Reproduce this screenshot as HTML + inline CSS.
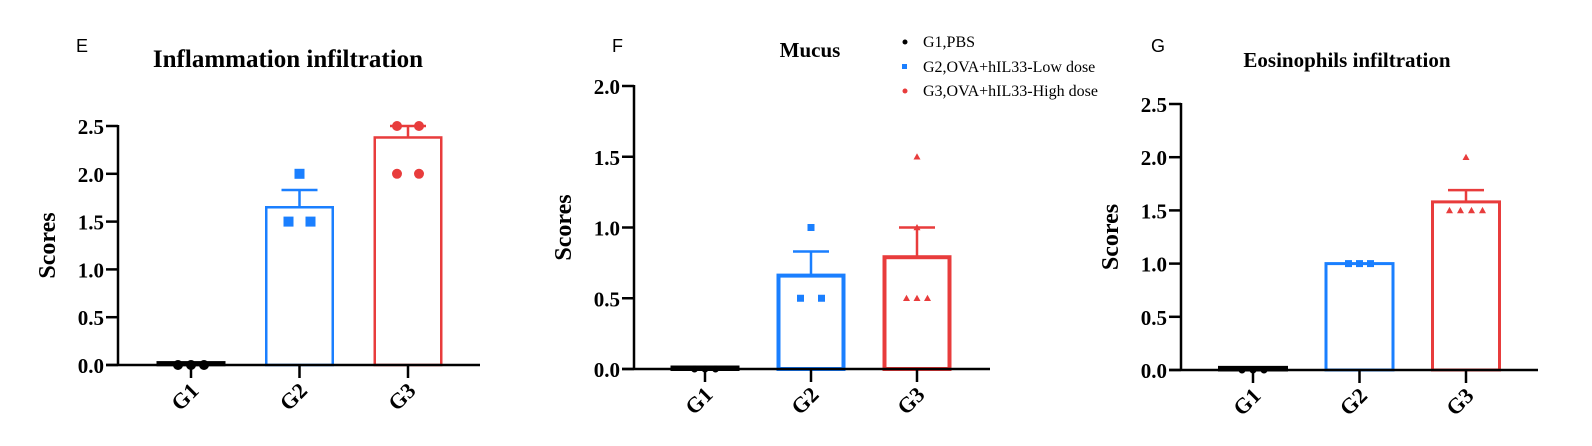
<!DOCTYPE html>
<html><head><meta charset="utf-8"><style>
body{margin:0;background:#fff;width:1592px;height:441px;overflow:hidden}
svg text{font-family:"Liberation Serif",serif}
</style></head><body>
<svg id="c" width="1592" height="441" xmlns="http://www.w3.org/2000/svg">
<text x="76" y="52" font-size="18" style="font-family:'Liberation Sans',sans-serif">E</text>
<text x="612" y="52" font-size="18" style="font-family:'Liberation Sans',sans-serif">F</text>
<text x="1151" y="52" font-size="18" style="font-family:'Liberation Sans',sans-serif">G</text>
<g font-size="16">
<circle cx="905" cy="42" r="2.5" fill="#000"/><text x="923" y="47">G1,PBS</text>
<rect x="902" y="64" width="5" height="5" fill="#1a7fff"/><text x="923" y="72">G2,OVA+hIL33-Low dose</text>
<circle cx="905" cy="91" r="2.5" fill="#e83c3c"/><text x="923" y="96">G3,OVA+hIL33-High dose</text>
</g>
</svg>
<script>
const categories=["G1","G2","G3"];
const colors=["#000","#1a7fff","#e83c3c"];
const eTitle="Inflammation infiltration", eMeans=[0.02,1.65,2.38], eErr=[0,1.83,2.5], ePoints=[[0,0,0],[2,1.5,1.5],[2.5,2.5,2,2]], eTicks=["0.0","0.5","1.0","1.5","2.0","2.5"];
const fTitle="Mucus", fMeans=[0.01,0.66,0.79], fErr=[0,0.83,1.0], fPoints=[[0,0,0],[1,0.5,0.5],[1.5,1.0,0.5,0.5,0.5]], fTicks=["0.0","0.5","1.0","1.5","2.0"];
const gTitle="Eosinophils infiltration", gMeans=[0.02,1.0,1.58], gErr=[0,1.0,1.69], gPoints=[[0,0,0],[1,1,1],[2,1.5,1.5,1.5,1.5]], gTicks=["0.0","0.5","1.0","1.5","2.0","2.5"];
const svg=document.getElementById('c');const NS="http://www.w3.org/2000/svg";
function mk(t,a,p){const e=document.createElementNS(NS,t);for(const k in a)e.setAttribute(k,a[k]);(p||svg).appendChild(e);return e;}
function panel(id,cfg){
 const g=mk('g',{});
 
 
 const ymax=parseFloat(cfg.ticks[cfg.ticks.length-1]);
 const y=v=>cfg.y0-(v/ymax)*(cfg.y0-cfg.yTop);
 const x=i=>cfg.cx0+i*cfg.step;
 const t=mk('text',{x:cfg.titleX,y:cfg.titleY,'text-anchor':'middle','font-size':cfg.titleSize,'font-weight':'bold'},g);t.textContent=cfg.title;
 
 
 const yt=mk('text',{x:0,y:0,'text-anchor':'middle','font-size':24,'font-weight':'bold',transform:`translate(${cfg.ax-63},${(cfg.y0+cfg.yTop)/2}) rotate(-90)`},g);yt.textContent="Scores";
 
 
 cfg.ticks.forEach(s=>{const v=parseFloat(s);mk('line',{x1:cfg.ax-12,x2:cfg.ax,y1:y(v),y2:y(v),stroke:'#000','stroke-width':2.5},g);
  const l=mk('text',{x:cfg.ax-14,y:y(v)+8,'text-anchor':'end','font-size':21,'font-weight':'bold'},g);l.textContent=s;
  
  });
 categories.forEach((c,i)=>{
  const bw=cfg.bw,h=cfg.sw/2;
  const b=mk('rect',{x:x(i)-bw/2+h,y:y(cfg.means[i]),width:bw-2*h,height:Math.max(cfg.y0-y(cfg.means[i]),0.1),fill:'#fff',stroke:colors[i],'stroke-width':cfg.sw},g);
  
  
  if(i==0){mk('rect',{x:x(i)-bw/2,y:y(cfg.means[i])-2,width:bw,height:cfg.y0-y(cfg.means[i])+3,fill:'#000'},g);}
  if(cfg.err[i]>cfg.means[i]){
   const e1=mk('line',{x1:x(i),x2:x(i),y1:y(cfg.means[i]),y2:y(cfg.err[i]),stroke:colors[i],'stroke-width':2.5},g);
   
   
   mk('line',{x1:x(i)-18,x2:x(i)+18,y1:y(cfg.err[i]),y2:y(cfg.err[i]),stroke:colors[i],'stroke-width':2.5},g);}
  const pts=cfg.points[i];const counts={};
  pts.forEach(v=>{counts[v]=(counts[v]||0)+1;});const seen={};
  pts.forEach(v=>{const n=counts[v];const k=seen[v]=(seen[v]||0)+1;const d=(n==2?cfg.dx2:cfg.dx);const px=x(i)+(k-(n+1)/2)*d;const py=y(v);let m;
   const shape=cfg.shapes[i];
   if(shape=='c')m=mk('circle',{cx:px,cy:py,r:cfg.r,fill:colors[i]},g);
   else if(shape=='s')m=mk('rect',{x:px-cfg.r,y:py-cfg.r,width:2*cfg.r,height:2*cfg.r,fill:colors[i]},g);
   else m=mk('polygon',{points:`${px},${py-cfg.r} ${px-cfg.r},${py+cfg.r*0.8} ${px+cfg.r},${py+cfg.r*0.8}`,fill:colors[i]},g);
   
   });
  mk('line',{x1:x(i),x2:x(i),y1:cfg.y0,y2:cfg.y0+13,stroke:'#000','stroke-width':2.5},g);
  const xl=mk('text',{x:0,y:0,'text-anchor':'end','font-size':22,'font-weight':'bold',transform:`translate(${x(i)+9},${cfg.y0+27}) rotate(-45)`},g);xl.textContent=c;
  
  
 });
 const ya=mk('line',{x1:cfg.ax,x2:cfg.ax,y1:cfg.yTop-1,y2:cfg.y0+1,stroke:'#000','stroke-width':2.5},g);
 
 
 const xa=mk('line',{x1:cfg.ax-12,x2:cfg.xEnd,y1:cfg.y0,y2:cfg.y0,stroke:'#000','stroke-width':2.5},g);
 
 
}
panel('inflammation',{title:eTitle,means:eMeans,err:eErr,points:ePoints,ticks:eTicks,y0:365,yTop:126,ax:118,xEnd:480,cx0:191,step:108.5,bw:69,sw:2.5,titleX:288,titleY:67,titleSize:25,shapes:['c','s','c'],r:5,dx:13,dx2:22});
panel('mucus',{title:fTitle,means:fMeans,err:fErr,points:fPoints,ticks:fTicks,y0:369,yTop:86,ax:634,xEnd:990,cx0:705,step:106,bw:69,sw:4,titleX:810,titleY:57,titleSize:21,shapes:['c','s','t'],r:3.5,dx:10.5,dx2:21});
panel('eosinophils',{title:gTitle,means:gMeans,err:gErr,points:gPoints,ticks:gTicks,y0:370,yTop:104,ax:1181,xEnd:1538,cx0:1253,step:106.5,bw:70,sw:3,titleX:1347,titleY:67,titleSize:21,shapes:['c','s','t'],r:3.5,dx:11,dx2:11});
</script>
</body></html>
